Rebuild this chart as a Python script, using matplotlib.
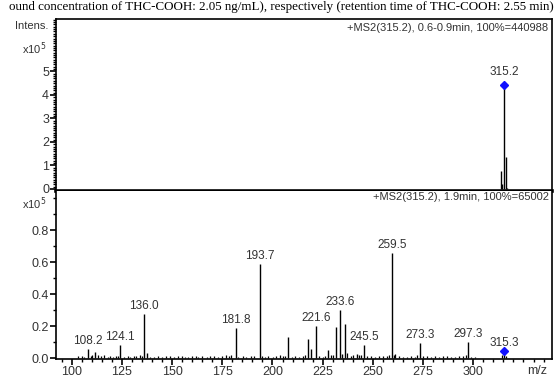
import matplotlib
matplotlib.use("Agg")
import matplotlib.pyplot as plt
from matplotlib.ticker import MultipleLocator

plt.rcParams["font.family"] = ["Liberation Sans", "DejaVu Sans"]

# top spectrum: +MS2(315.2), 0.6-0.9 min  (intensity in x10^5)
top_mz = [313.6, 314.4, 315.2, 316.1, 316.9]
top_int = [0.78, 0.20, 4.41, 1.37, 0.06]

# bottom spectrum: +MS2(315.2), 1.9 min  (intensity in x10^5)
bot_mz = [108.2, 111.6, 124.1, 136.0, 137.6, 181.8, 193.7, 207.9, 217.9, 219.2,
          221.6, 227.6, 231.4, 233.6, 234.7, 235.9, 242.0, 245.5, 259.5, 260.5,
          273.3, 297.3, 315.3]
bot_int = [0.054, 0.040, 0.080, 0.275, 0.033, 0.186, 0.590, 0.130, 0.120, 0.056,
           0.200, 0.050, 0.196, 0.300, 0.025, 0.210, 0.025, 0.081, 0.654, 0.020,
           0.096, 0.100, 0.044]

# baseline noise peaks
noise_mz = [103.1, 104.9, 106.2, 109.5, 110.3, 113.0, 114.8, 116.1, 117.9, 119.2,
            120.8, 122.0, 123.1, 126.0, 127.9, 129.1, 130.8, 132.2, 133.9, 135.1,
            139.0, 141.2, 143.0, 145.1, 147.0, 148.9, 151.1, 152.9, 155.0, 156.2,
            158.1, 160.0, 161.8, 163.1, 165.0, 167.2, 169.0, 170.9, 173.1, 175.0,
            176.9, 178.1, 179.2, 183.0, 185.1, 187.0, 189.2, 191.0, 195.0, 196.1,
            198.0, 200.1, 202.0, 203.9, 205.1, 206.2, 209.8, 211.0, 213.1, 215.0,
            216.1, 223.0, 225.1, 226.2, 229.1, 230.1, 237.1, 238.9, 240.1, 243.0,
            244.1, 247.1, 249.0, 251.1, 253.0, 255.1, 257.0, 258.2, 261.2, 263.0,
            265.1, 267.0, 269.1, 271.0, 272.2, 275.1, 277.0, 279.1, 281.0, 283.1,
            285.0, 287.1, 289.0, 291.1, 293.0, 295.1, 296.2, 299.0, 301.1, 314.3,
            316.2]
noise_int = [0.010, 0.014, 0.008, 0.012, 0.022, 0.018, 0.010, 0.016, 0.006, 0.012,
             0.008, 0.014, 0.010, 0.006, 0.012, 0.008, 0.014, 0.010, 0.016, 0.012,
             0.008, 0.006, 0.010, 0.008, 0.012, 0.014, 0.006, 0.010, 0.012, 0.008,
             0.006, 0.014, 0.010, 0.008, 0.012, 0.006, 0.010, 0.014, 0.008, 0.012,
             0.016, 0.010, 0.018, 0.008, 0.012, 0.006, 0.010, 0.014, 0.012, 0.008,
             0.010, 0.006, 0.012, 0.016, 0.010, 0.014, 0.008, 0.012, 0.006, 0.010,
             0.016, 0.010, 0.008, 0.012, 0.022, 0.016, 0.030, 0.012, 0.018, 0.020,
             0.022, 0.014, 0.010, 0.008, 0.012, 0.010, 0.014, 0.020, 0.024, 0.012,
             0.008, 0.006, 0.010, 0.008, 0.020, 0.014, 0.010, 0.008, 0.012, 0.006,
             0.010, 0.014, 0.008, 0.006, 0.010, 0.012, 0.022, 0.006, 0.008, 0.018,
             0.012]

top_labels = [(315.2, 4.41, "315.2")]
bot_labels = [(108.2, 0.054, "108.2"), (124.1, 0.080, "124.1"), (136.0, 0.275, "136.0"),
              (181.8, 0.186, "181.8"), (193.7, 0.590, "193.7"), (221.6, 0.200, "221.6"),
              (233.6, 0.300, "233.6"), (245.5, 0.081, "245.5"), (259.5, 0.654, "259.5"),
              (273.3, 0.096, "273.3"), (297.3, 0.100, "297.3"), (315.3, 0.044, "315.3")]

TXT = "#333333"
XLIM = (92.2, 339.2)
FS_TICK = 9
FS_LAB = 8.5
FS_HEAD = 8

fig = plt.figure(figsize=(5.54, 3.81), dpi=100)
ax_top = fig.add_axes([0.1011, 0.4987, 0.8953, 0.4514])
ax_bot = fig.add_axes([0.1011, 0.0577, 0.8953, 0.4410])

# top panel
ax_top.vlines(top_mz, 0, top_int, color="black", lw=1.0)
ax_top.plot([315.2], [4.41], marker="D", ms=4.5, color="#1010ff", ls="none")
for mz, h, lab in top_labels:
    ax_top.annotate(lab, (mz, h), xytext=(0, 5), textcoords="offset points",
                    ha="center", va="bottom", fontsize=FS_LAB, color=TXT)
ax_top.set_xlim(*XLIM)
ax_top.set_ylim(-0.085, 7.23)
ax_top.set_yticks([0, 1, 2, 3, 4, 5])
ax_top.yaxis.set_minor_locator(MultipleLocator(0.1))
ax_top.tick_params(axis="y", direction="out", length=4, width=1.2, labelsize=FS_TICK,
                   labelcolor=TXT, pad=1)
ax_top.tick_params(axis="y", which="minor", direction="out", length=2.5, width=1.0)
ax_top.tick_params(axis="x", which="both", bottom=False, labelbottom=False)
ax_top.spines["bottom"].set_linewidth(2.6)
for s in ["left", "right", "top"]:
    ax_top.spines[s].set_linewidth(1.2)
ax_top.text(0.993, 0.975, "+MS2(315.2), 0.6-0.9min, 100%=440988", transform=ax_top.transAxes,
            ha="right", va="top", fontsize=FS_HEAD, color=TXT)
ax_top.text(-0.015, 0.96, "Intens.", transform=ax_top.transAxes, ha="right", va="center",
            fontsize=FS_HEAD, color=TXT)
ax_top.text(-0.02, 0.83, r"x10$^5$", transform=ax_top.transAxes, ha="right", va="center",
            fontsize=FS_HEAD, color=TXT)

# bottom panel
ax_bot.vlines(noise_mz, 0, noise_int, color="black", lw=0.9)
ax_bot.vlines(bot_mz, 0, bot_int, color="black", lw=1.0)
ax_bot.plot([315.3], [0.044], marker="D", ms=4.5, color="#1010ff", ls="none")
for mz, h, lab in bot_labels:
    ax_bot.annotate(lab, (mz, h), xytext=(0, 1.5), textcoords="offset points",
                    ha="center", va="bottom", fontsize=FS_LAB, color=TXT)
ax_bot.set_xlim(*XLIM)
ax_bot.set_ylim(-0.006, 1.044)
ax_bot.set_yticks([0.0, 0.2, 0.4, 0.6, 0.8])
ax_bot.set_yticklabels(["0.0", "0.2", "0.4", "0.6", "0.8"])
ax_bot.yaxis.set_minor_locator(MultipleLocator(0.1))
ax_bot.set_xticks([100, 125, 150, 175, 200, 225, 250, 275, 300])
ax_bot.xaxis.set_minor_locator(MultipleLocator(5))
ax_bot.tick_params(axis="both", direction="out", length=4, width=1.2, labelsize=FS_TICK,
                   labelcolor=TXT, pad=1)
ax_bot.tick_params(axis="both", which="minor", direction="out", length=2.5, width=1.0)
ax_bot.spines["top"].set_visible(False)
for s in ["left", "right", "bottom"]:
    ax_bot.spines[s].set_linewidth(1.2)
ax_bot.text(0.993, 0.995, "+MS2(315.2), 1.9min, 100%=65002", transform=ax_bot.transAxes,
            ha="right", va="top", fontsize=FS_HEAD, color=TXT)
ax_bot.text(-0.02, 0.925, r"x10$^5$", transform=ax_bot.transAxes, ha="right", va="center",
            fontsize=FS_HEAD, color=TXT)
ax_bot.text(0.97, -0.035, "m/z", transform=ax_bot.transAxes, ha="center", va="top",
            fontsize=FS_TICK, color=TXT)

# caption line above the figure
fig.text(0.999, 0.997, "ound concentration of THC-COOH: 2.05 ng/mL), respectively "
         "(retention time of THC-COOH: 2.55 min)", ha="right", va="top",
         family="Liberation Serif", fontsize=9.35, color="black")

fig.savefig("out.png", dpi=100)
